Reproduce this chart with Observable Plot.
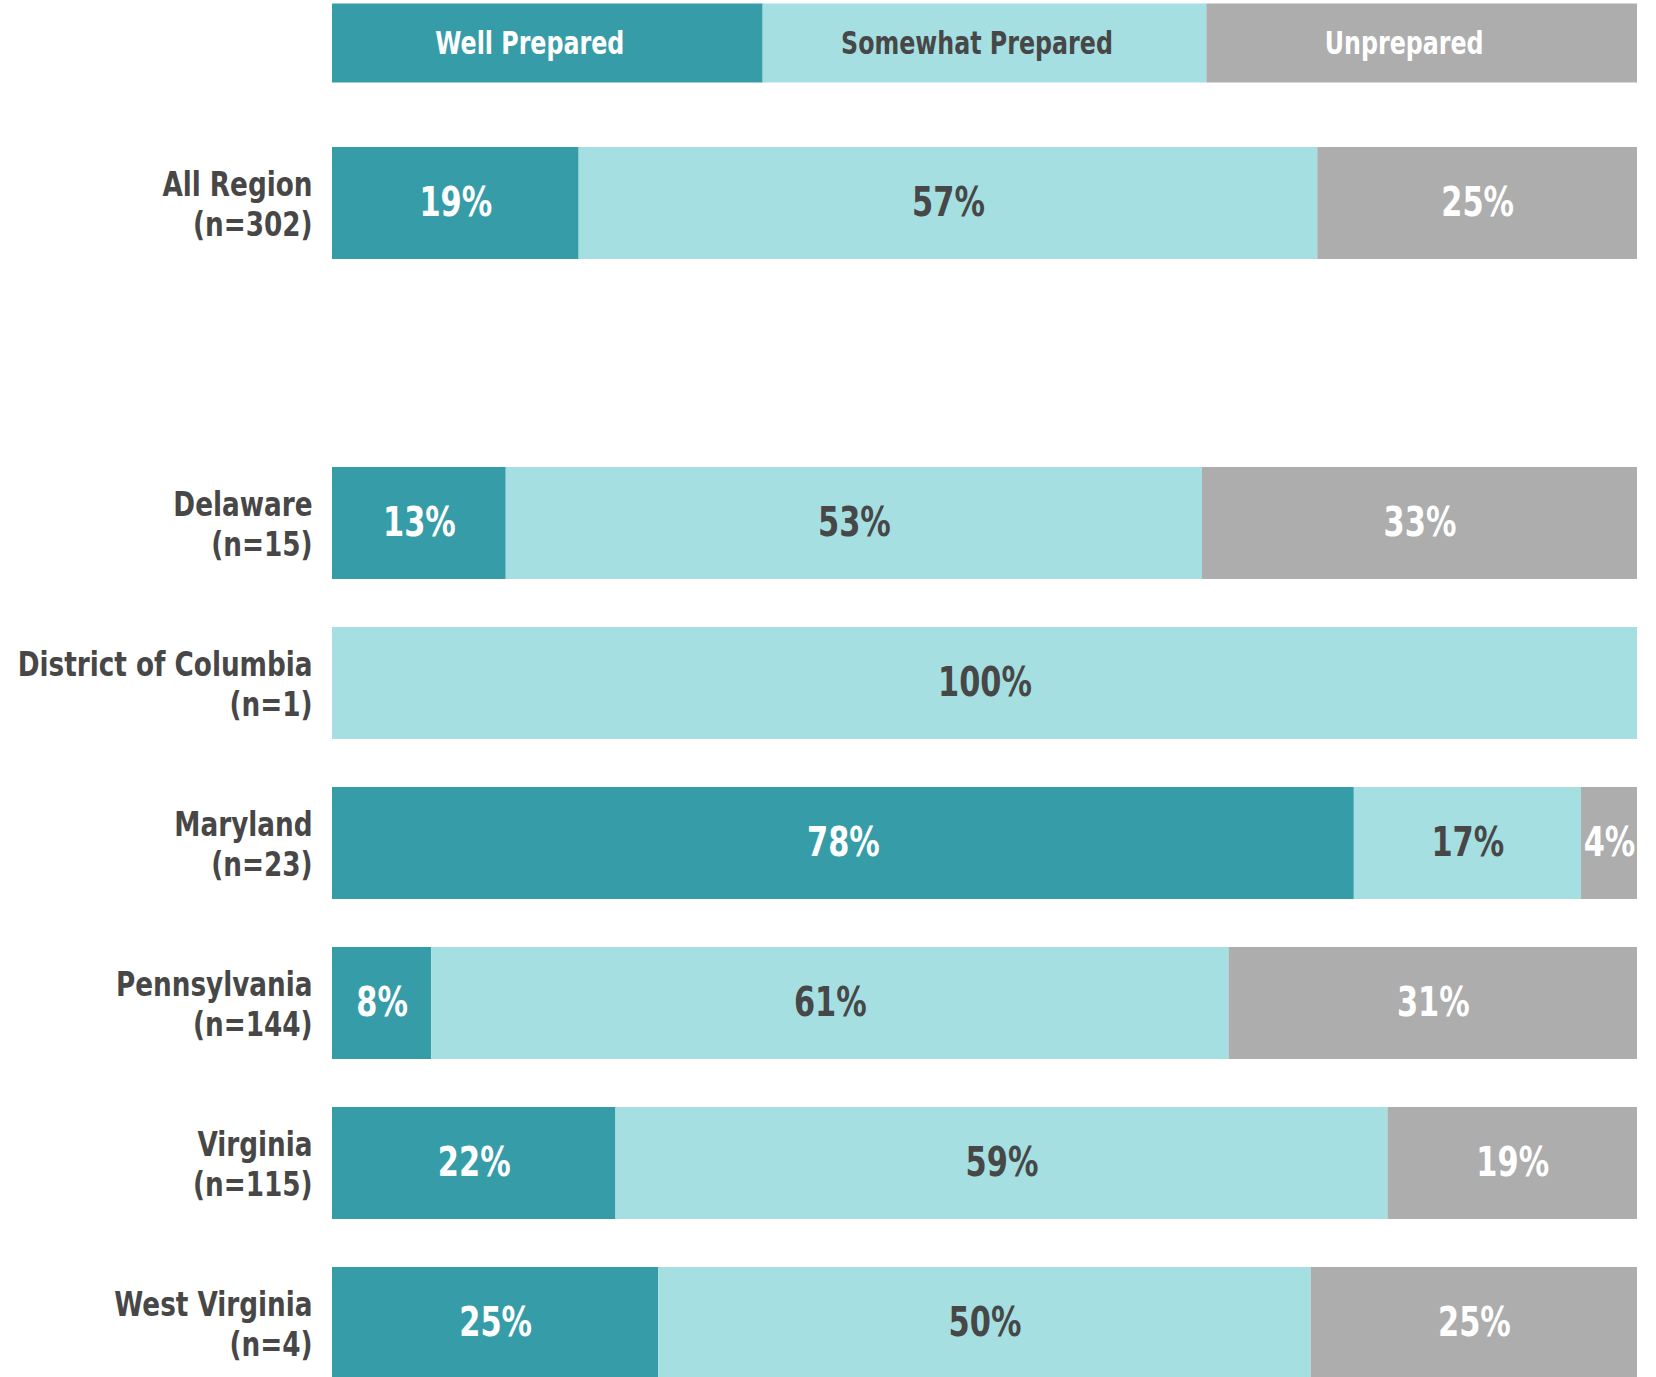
<!DOCTYPE html>
<html>
<head>
<meta charset="utf-8">
<script src="https://cdn.jsdelivr.net/npm/d3@7"></script>
<script src="https://cdn.jsdelivr.net/npm/@observablehq/plot@0.6"></script>
<style>
  html, body { margin: 0; padding: 0; background: #fff; overflow: hidden; }
  #chart svg { overflow: hidden; display: block; }
</style>
</head>
<body>
<div id="chart"></div>
<script>
const categories = ["Well Prepared", "Somewhat Prepared", "Unprepared"];
const categoryColors = ["#369da8", "#a5dfe1", "#adadad"];
const legendShares = [33, 34, 33];

const regions = ["All Region", "Delaware", "District of Columbia", "Maryland", "Pennsylvania", "Virginia", "West Virginia"];
const sampleSizes = [302, 15, 1, 23, 144, 115, 4];
const wellPrepared     = [18.9, 13.3, 0,   78.3, 7.6,  21.7, 25];
const somewhatPrepared = [56.6, 53.3, 100, 17.4, 61.1, 59.1, 50];
const unprepared       = [24.5, 33.3, 0,   4.3,  31.3, 19.1, 25];

const rowOrder = ["legend", "All Region", "spacer", ...regions.slice(1)];

const series = [wellPrepared, somewhatPrepared, unprepared];
const bars = [];
regions.forEach((r, i) => {
  categories.forEach((c, k) => {
    bars.push({row: r, category: c, value: series[k][i]});
  });
});
const legendRows = categories.map((c, k) => ({row: "legend", category: c, value: legendShares[k]}));

const font = "'Liberation Sans Narrow', 'Arial Narrow', 'DejaVu Sans Condensed', 'DejaVu Sans', sans-serif";
const darkText = "#474747";
const pct = d => Math.round(d.value) + "%";

const stack = (opts) => Plot.stackX({x: "value", y: "row", offset: "normalize", order: null, ...opts});

const chart = Plot.plot({
  width: 1656,
  height: 1377,
  marginLeft: 332,
  marginRight: 19,
  marginTop: 0,
  marginBottom: 0,
  style: {fontFamily: font, overflow: "hidden", background: "#fff"},
  x: {domain: [0, 1], axis: null},
  y: {domain: rowOrder, range: [-63.6, 1430], padding: 0.3, axis: null},
  color: {domain: categories, range: categoryColors},
  marks: [
    Plot.barX(bars, stack({fill: "category"})),
    Plot.barX(legendRows, stack({fill: "category", insetTop: 16.5, insetBottom: 16.5})),
    Plot.text(bars, stack({
      text: d => d.value > 0 && d.category !== "Somewhat Prepared" ? pct(d) : null,
      fill: "white", fontSize: 40, fontWeight: "bold"
    })),
    Plot.text(bars, stack({
      text: d => d.value > 0 && d.category === "Somewhat Prepared" ? pct(d) : null,
      fill: darkText, fontSize: 40, fontWeight: "bold"
    })),
    Plot.text(legendRows, stack({
      text: d => d.category !== "Somewhat Prepared" ? d.category : null,
      fill: "white", fontSize: 32, fontWeight: "bold", dx: -18
    })),
    Plot.text(legendRows, stack({
      text: d => d.category === "Somewhat Prepared" ? d.category : null,
      fill: darkText, fontSize: 32, fontWeight: "bold", dx: -8
    })),
    Plot.text(regions, {
      y: d => d,
      text: (d, i) => `${d}\n(n=${sampleSizes[i]})`,
      frameAnchor: "left",
      textAnchor: "end",
      dx: -20,
      lineHeight: 1.2,
      fontSize: 33,
      fontWeight: "bold",
      fill: darkText
    })
  ]
});
document.getElementById("chart").appendChild(chart);

// Emulate the condensed typeface: compress each label horizontally around its anchor.
d3.select(chart).selectAll('g[aria-label="text"]').each(function() {
  const fs = +this.getAttribute("font-size");
  const k = fs >= 40 ? 0.845 : fs >= 33 ? 0.885 : 0.825;
  d3.select(this).selectAll(":scope > text").each(function() {
    const t = this.getAttribute("transform");
    if (t) {
      this.setAttribute("transform", `${t} scale(${k},1)`);
    } else {
      const x = +(this.getAttribute("x") || 0), y = +(this.getAttribute("y") || 0);
      this.removeAttribute("x"); this.removeAttribute("y");
      this.setAttribute("transform", `translate(${x},${y}) scale(${k},1)`);
    }
  });
});
</script>
</body>
</html>
